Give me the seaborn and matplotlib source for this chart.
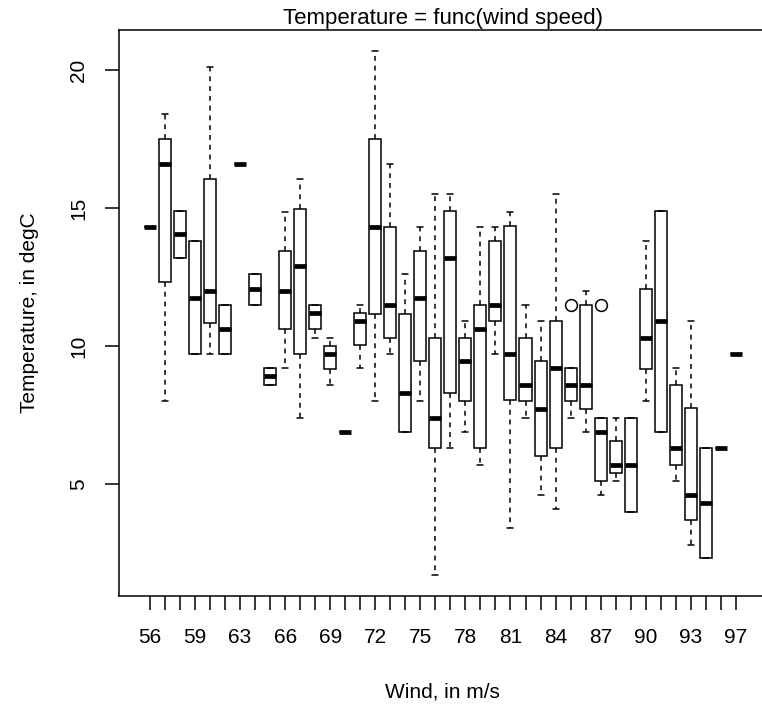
import numpy as np
import pandas as pd
import matplotlib
matplotlib.use("Agg")
import matplotlib.pyplot as plt
import seaborn as sns

# ---- data (five-number summaries per wind value) ----
wind = [56, 57, 58, 59, 60, 61, 63, 64, 65, 66, 67, 68, 69, 70, 71, 72, 73, 74, 75, 76,
        77, 78, 79, 80, 81, 82, 83, 84, 85, 86, 87, 88, 89, 90, 91, 92, 93, 94, 95, 97]
lower = [14.3, 8.0, 13.2, 9.7, 9.7, 9.7, 16.6, 11.5, 8.6, 9.2, 7.4, 10.3, 8.6, 6.9, 9.2, 8.0, 9.7, 6.9, 8.0, 1.7,
         6.3, 6.9, 5.7, 9.7, 3.4, 7.4, 4.6, 4.1, 7.4, 6.9, 4.6, 5.1, 4.0, 8.0, 6.9, 5.1, 2.8, 2.3, 6.3, 9.7]
q1 = [14.3, 12.3, 13.2, 9.7, 10.85, 9.7, 16.6, 11.5, 8.6, 10.6, 9.7, 10.6, 9.15, 6.9, 10.05, 11.15, 10.3, 6.9, 9.45, 6.3,
      8.3, 8.0, 6.3, 10.9, 8.05, 8.0, 6.0, 6.3, 8.0, 7.7, 5.1, 5.4, 4.0, 9.15, 6.9, 5.7, 3.7, 2.3, 6.3, 9.7]
median = [14.3, 16.6, 14.05, 11.75, 12.0, 10.6, 16.6, 12.05, 8.9, 12.0, 12.9, 11.2, 9.7, 6.9, 10.9, 14.3, 11.5, 8.3, 11.75, 7.4,
          13.2, 9.45, 10.6, 11.5, 9.7, 8.6, 7.7, 9.2, 8.6, 8.6, 6.9, 5.7, 5.7, 10.3, 10.9, 6.3, 4.6, 4.3, 6.3, 9.7]
q3 = [14.3, 17.5, 14.9, 13.8, 16.05, 11.5, 16.6, 12.6, 9.2, 13.45, 14.95, 11.5, 10.0, 6.9, 11.2, 17.5, 14.3, 11.15, 13.45, 10.3,
      14.9, 10.3, 11.5, 13.8, 14.35, 10.3, 9.45, 10.9, 9.2, 11.5, 7.4, 6.55, 7.4, 12.05, 14.9, 8.6, 7.75, 6.3, 6.3, 9.7]
upper = [14.3, 18.4, 14.9, 13.8, 20.1, 11.5, 16.6, 12.6, 9.2, 14.85, 16.05, 11.5, 10.3, 6.9, 11.5, 20.7, 16.6, 12.6, 14.3, 15.5,
         15.5, 10.9, 14.3, 14.3, 14.85, 11.5, 10.9, 15.5, 9.2, 12.0, 7.4, 7.4, 7.4, 13.8, 14.9, 9.2, 10.9, 6.3, 6.3, 9.7]
outlier_wind = [85, 87]
outlier_temp = [11.5, 11.5]
shown_labels = [56, 59, 63, 66, 69, 72, 75, 78, 81, 84, 87, 90, 93, 97]
y_ticks = [5, 10, 15, 20]

order = [str(w) for w in wind]
rows = []
for w, a, b, c, d, e in zip(wind, lower, q1, median, q3, upper):
    for v in (a, b, c, d, e):
        rows.append((str(w), v))
df = pd.DataFrame(rows, columns=["Wind", "Temp"])
out_df = pd.DataFrame({"Wind": [str(w) for w in outlier_wind], "Temp": outlier_temp})

sns.set_theme(style="white")
plt.rcParams["font.family"] = ["Liberation Sans", "DejaVu Sans"]
for k in ["text.color", "axes.labelcolor", "xtick.color", "ytick.color", "axes.edgecolor"]:
    plt.rcParams[k] = "black"

W, H = 762, 705
fig = plt.figure(figsize=(W / 100, H / 100), dpi=100)
left_px, top_px, bottom_px = 118.5, 29.7, 596.0
ax = fig.add_axes([left_px / W, (H - bottom_px) / H, (W - left_px) / W, (bottom_px - top_px) / H])

sns.boxplot(data=df, x="Wind", y="Temp", order=order, whis=(0, 100), width=0.8,
            color="white", saturation=1, linecolor="black", linewidth=1.1, fill=True,
            showfliers=False,
            medianprops=dict(linewidth=3.4, solid_capstyle="butt"),
            whiskerprops=dict(linestyle=(0, (3.2, 3.2))),
            ax=ax)
sns.stripplot(data=out_df, x="Wind", y="Temp", order=order, jitter=False,
              color="white", edgecolor="black", linewidth=1.1, size=8.5, ax=ax, zorder=4)

# axes limits like R's boxplot (4% extension)
spacing = 15.02
ax.set_xlim(-(150 - left_px) / spacing, (W - 150) / spacing)
ax.set_ylim(0.94, 21.46)

ax.set_xticks(range(len(order)))
ax.set_xticklabels([str(w) if w in shown_labels else "" for w in wind], fontsize=15)
ax.set_yticks(y_ticks)
ax.set_yticklabels([str(t) for t in y_ticks], fontsize=15, rotation=90, va="center")
ax.tick_params(axis="both", which="major", direction="out", length=10, width=1.1,
               color="black", labelcolor="black", bottom=True, left=True, top=False, right=False)
ax.tick_params(axis="x", pad=13)
ax.tick_params(axis="y", pad=12)

for s in ["left", "top", "bottom"]:
    ax.spines[s].set_visible(True)
    ax.spines[s].set_color("black")
    ax.spines[s].set_linewidth(1.1)
ax.spines["right"].set_visible(False)

plot_h = bottom_px - top_px
center_x = (442.8 - left_px) / (W - left_px)
ax.set_xlabel("Wind, in m/s", fontsize=15)
ax.xaxis.set_label_coords(center_x, -(692 - bottom_px) / plot_h)
ax.xaxis.label.set_va("center")
ax.set_ylabel("Temperature, in degC", fontsize=15)
ax.yaxis.set_label_coords(-(left_px - 30) / (W - left_px), 0.5)
ax.yaxis.label.set_va("center")
ax.text(center_x, 1 + (top_px - 18) / plot_h, "Temperature = func(wind speed)",
        transform=ax.transAxes, ha="center", va="center", fontsize=16)

fig.savefig("out.png", dpi=100)
